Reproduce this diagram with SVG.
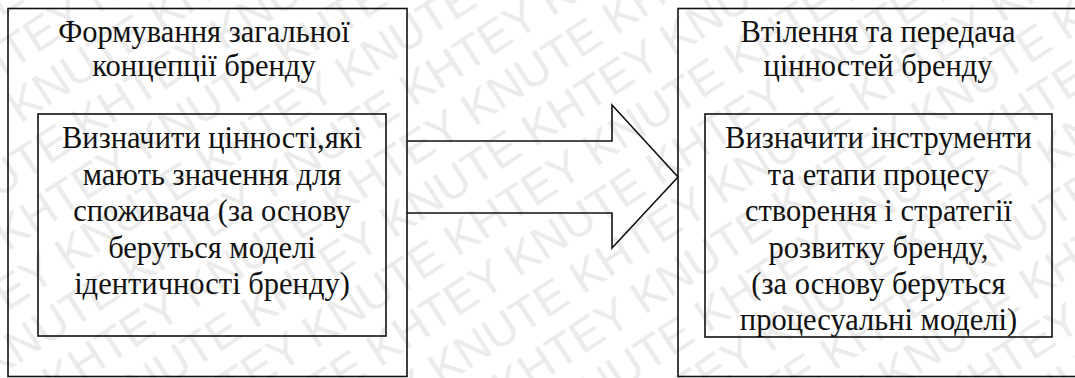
<svg xmlns="http://www.w3.org/2000/svg" width="1075" height="378" viewBox="0 0 1075 378">
  <style>
    .box { fill: none; stroke: #111; stroke-width: 1.6; }
    .lbl { font-family: 'Liberation Serif', 'Times New Roman', serif; font-size: 30.5px; fill: #111; text-anchor: middle; }
    .wm { font-family: 'Liberation Sans', Arial, sans-serif; font-size: 46px; fill: #ebebeb; }
  </style>
  <rect width="1075" height="378" fill="#fff"/>

  <!-- diagonal background lettering -->
  <g id="watermark" transform="rotate(-33)">
    <text class="wm" x="-300" y="15">KHTEY KNUTE KHTEY KNUTE KHTEY KNUTE KHTEY KNUTE KHTEY KNUTE</text>
    <text class="wm" x="-425" y="65">KHTEY KNUTE KHTEY KNUTE KHTEY KNUTE KHTEY KNUTE KHTEY KNUTE</text>
    <text class="wm" x="-550" y="115">KHTEY KNUTE KHTEY KNUTE KHTEY KNUTE KHTEY KNUTE KHTEY KNUTE KHTEY KNUTE</text>
    <text class="wm" x="-340" y="165">KHTEY KNUTE KHTEY KNUTE KHTEY KNUTE KHTEY KNUTE KHTEY KNUTE</text>
    <text class="wm" x="-465" y="215">KHTEY KNUTE KHTEY KNUTE KHTEY KNUTE KHTEY KNUTE KHTEY KNUTE</text>
    <text class="wm" x="-590" y="265">KHTEY KNUTE KHTEY KNUTE KHTEY KNUTE KHTEY KNUTE KHTEY KNUTE KHTEY KNUTE</text>
    <text class="wm" x="-380" y="315">KHTEY KNUTE KHTEY KNUTE KHTEY KNUTE KHTEY KNUTE KHTEY KNUTE</text>
    <text class="wm" x="-505" y="365">KHTEY KNUTE KHTEY KNUTE KHTEY KNUTE KHTEY KNUTE KHTEY KNUTE</text>
    <text class="wm" x="-300" y="415">KHTEY KNUTE KHTEY KNUTE KHTEY KNUTE KHTEY KNUTE KHTEY KNUTE</text>
    <text class="wm" x="-425" y="465">KHTEY KNUTE KHTEY KNUTE KHTEY KNUTE KHTEY KNUTE KHTEY KNUTE</text>
    <text class="wm" x="-550" y="515">KHTEY KNUTE KHTEY KNUTE KHTEY KNUTE KHTEY KNUTE KHTEY KNUTE KHTEY KNUTE</text>
    <text class="wm" x="-340" y="565">KHTEY KNUTE KHTEY KNUTE KHTEY KNUTE KHTEY KNUTE KHTEY KNUTE</text>
    <text class="wm" x="-465" y="615">KHTEY KNUTE KHTEY KNUTE KHTEY KNUTE KHTEY KNUTE KHTEY KNUTE</text>
    <text class="wm" x="-590" y="665">KHTEY KNUTE KHTEY KNUTE KHTEY KNUTE KHTEY KNUTE KHTEY KNUTE KHTEY KNUTE</text>
    <text class="wm" x="-380" y="715">KHTEY KNUTE KHTEY KNUTE KHTEY KNUTE KHTEY KNUTE KHTEY KNUTE</text>
    <text class="wm" x="-505" y="765">KHTEY KNUTE KHTEY KNUTE KHTEY KNUTE KHTEY KNUTE KHTEY KNUTE</text>
    <text class="wm" x="-300" y="815">KHTEY KNUTE KHTEY KNUTE KHTEY KNUTE KHTEY KNUTE KHTEY KNUTE</text>
    <text class="wm" x="-425" y="865">KHTEY KNUTE KHTEY KNUTE KHTEY KNUTE KHTEY KNUTE KHTEY KNUTE</text>
    <text class="wm" x="-550" y="915">KHTEY KNUTE KHTEY KNUTE KHTEY KNUTE KHTEY KNUTE KHTEY KNUTE KHTEY KNUTE</text>
    <text class="wm" x="-340" y="965">KHTEY KNUTE KHTEY KNUTE KHTEY KNUTE KHTEY KNUTE KHTEY KNUTE</text>
  </g>

  <!-- stage 1 -->
  <g id="stage-concept">
    <rect class="box" x="8" y="8.5" width="399" height="368"/>
    <text class="lbl" x="204" y="41.5">Формування загальної</text>
    <text class="lbl" x="204" y="76">концепції бренду</text>
  </g>
  <g id="define-values">
    <rect class="box" x="38" y="114" width="348" height="222"/>
    <text class="lbl" x="212" y="148">Визначити цінності,які</text>
    <text class="lbl" x="212" y="184.5">мають значення для</text>
    <text class="lbl" x="212" y="221">споживача (за основу</text>
    <text class="lbl" x="212" y="257.5">беруться моделі</text>
    <text class="lbl" x="212" y="294">ідентичності бренду)</text>
  </g>

  <!-- stage 2 -->
  <g id="stage-delivery">
    <rect class="box" x="678" y="8.5" width="410" height="368"/>
    <text class="lbl" x="878" y="41.5">Втілення та передача</text>
    <text class="lbl" x="878" y="76">цінностей бренду</text>
  </g>
  <g id="define-tools">
    <rect class="box" x="705" y="114" width="347" height="223"/>
    <text class="lbl" x="878.5" y="148">Визначити інструменти</text>
    <text class="lbl" x="878.5" y="184.5">та етапи процесу</text>
    <text class="lbl" x="878.5" y="221">створення і стратегії</text>
    <text class="lbl" x="878.5" y="257.5">розвитку бренду,</text>
    <text class="lbl" x="878.5" y="294">(за основу беруться</text>
    <text class="lbl" x="878.5" y="330">процесуальні моделі)</text>
  </g>

  <!-- block arrow between stages -->
  <g id="connectors">
    <path class="box" d="M407,141 H612 V105 L678,177 L612,248 V213 H407"/>
  </g>
</svg>
